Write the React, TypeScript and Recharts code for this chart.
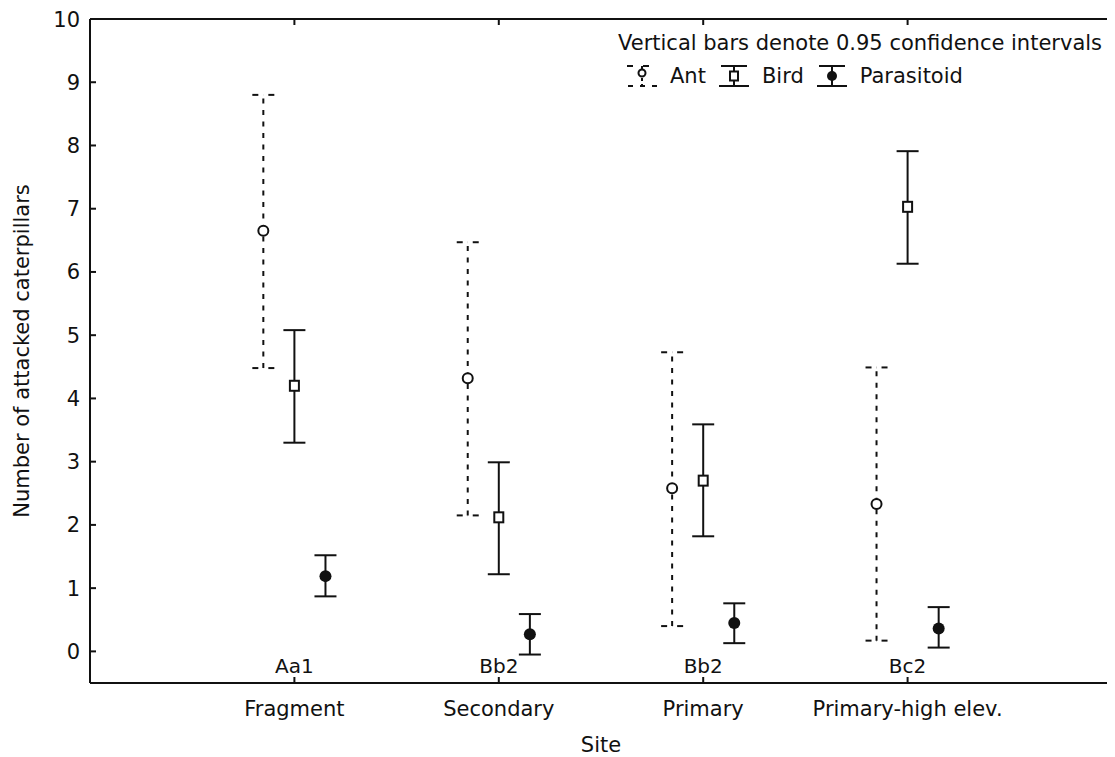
import React from 'react';
import { ComposedChart, Scatter, XAxis, YAxis, ErrorBar, Legend, ReferenceLine } from 'recharts';

const FONT = '"DejaVu Sans", "Liberation Sans", sans-serif';
const INK = '#111';

// ---- data ----
const sites = ['Fragment', 'Secondary', 'Primary', 'Primary-high elev.'];
const siteCodes = ['Aa1', 'Bb2', 'Bb2', 'Bc2'];
const sitePositions = [1, 2, 3, 4];

const antMean = [6.65, 4.32, 2.58, 2.33];
const antLow = [4.48, 2.15, 0.4, 0.17];
const antHigh = [8.8, 6.47, 4.73, 4.49];

const birdMean = [4.2, 2.12, 2.7, 7.03];
const birdLow = [3.3, 1.22, 1.82, 6.13];
const birdHigh = [5.08, 2.99, 3.59, 7.91];

const parMean = [1.19, 0.27, 0.45, 0.36];
const parLow = [0.87, -0.05, 0.13, 0.06];
const parHigh = [1.52, 0.59, 0.76, 0.7];

const yTicks = [0, 1, 2, 3, 4, 5, 6, 7, 8, 9, 10];
const xDomain = [0, 5];
const yDomain = [-0.5, 10];
const legendTitle = 'Vertical bars denote 0.95 confidence intervals';
const seriesOffsets = { Ant: -0.152, Bird: 0, Parasitoid: 0.152 };

const mk = (mean: number[], low: number[], high: number[], off: number) =>
  sitePositions.map((p, i) => ({
    x: p + off,
    y: mean[i],
    err: [mean[i] - low[i], high[i] - mean[i]],
  }));

const antData = mk(antMean, antLow, antHigh, seriesOffsets.Ant);
const birdData = mk(birdMean, birdLow, birdHigh, seriesOffsets.Bird);
const parData = mk(parMean, parLow, parHigh, seriesOffsets.Parasitoid);
const antCapData = sitePositions.flatMap((p, i) => [
  { x: p + seriesOffsets.Ant, y: antLow[i] },
  { x: p + seriesOffsets.Ant, y: antHigh[i] },
]);

// ---- shapes ----
const AntMarker = (p: any) => (
  <circle cx={p.cx} cy={p.cy} r={5} fill="#fff" stroke={INK} strokeWidth={2} />
);
const BirdMarker = (p: any) => (
  <rect x={p.cx - 4.5} y={p.cy - 5} width={9} height={10} fill="#fff" stroke={INK} strokeWidth={2} />
);
const ParMarker = (p: any) => <circle cx={p.cx} cy={p.cy} r={6} fill={INK} />;
const AntCap = (p: any) => (
  <g>
    <line x1={p.cx - 11} x2={p.cx - 5} y1={p.cy} y2={p.cy} stroke={INK} strokeWidth={2} />
    <line x1={p.cx + 5} x2={p.cx + 11} y1={p.cy} y2={p.cy} stroke={INK} strokeWidth={2} />
  </g>
);
const NoShape = () => <g />;
const NoTick = () => <g />;

// ---- ticks ----
const LeftTick = (p: any) => (
  <g>
    <line x1={p.x} x2={p.x + 6} y1={p.y} y2={p.y} stroke={INK} strokeWidth={2} />
    <text x={p.x - 10} y={p.y + 7.5} textAnchor="end" fontFamily={FONT} fontSize={21} fill={INK}>
      {p.payload.value}
    </text>
  </g>
);
const BottomTick = (p: any) => {
  const i = sitePositions.indexOf(p.payload.value);
  return (
    <g>
      <line x1={p.x} x2={p.x} y1={p.y} y2={p.y - 6} stroke={INK} strokeWidth={2} />
      <text x={p.x} y={p.y - 10} textAnchor="middle" fontFamily={FONT} fontSize={20} fill={INK}>
        {siteCodes[i]}
      </text>
      <text x={p.x} y={p.y + 33} textAnchor="middle" fontFamily={FONT} fontSize={21} fill={INK}>
        {sites[i]}
      </text>
    </g>
  );
};

const SiteLabel = (p: any) => {
  const vb = p.viewBox;
  return (
    <text x={vb.x + vb.width / 2} y={vb.y + 69} textAnchor="middle" fontFamily={FONT} fontSize={21} fill={INK}>
      Site
    </text>
  );
};
const YLabel = (p: any) => {
  const vb = p.viewBox;
  const cx = 21;
  const cy = vb.y + vb.height / 2;
  return (
    <text
      x={cx}
      y={cy}
      transform={`rotate(-90, ${cx}, ${cy})`}
      textAnchor="middle"
      fontFamily={FONT}
      fontSize={21}
      fill={INK}
    >
      Number of attacked caterpillars
    </text>
  );
};

// ---- legend ----
const LegendSymbol = ({ name }: { name: string }) => {
  if (name === 'Ant') {
    return (
      <svg width={32} height={24} style={{ display: 'block' }}>
        <line x1={16} x2={16} y1={2} y2={22} stroke={INK} strokeWidth={2} strokeDasharray="3 3" />
        <line x1={1} x2={31} y1={2} y2={2} stroke={INK} strokeWidth={2} strokeDasharray="6 10" />
        <line x1={2} x2={32} y1={22} y2={22} stroke={INK} strokeWidth={2} strokeDasharray="5 7" />
        <circle cx={16} cy={9} r={3.5} fill="#fff" stroke={INK} strokeWidth={2} />
      </svg>
    );
  }
  return (
    <svg width={32} height={24} style={{ display: 'block' }}>
      <line x1={16} x2={16} y1={2} y2={22} stroke={INK} strokeWidth={2} />
      <line x1={3} x2={29} y1={2} y2={2} stroke={INK} strokeWidth={2} />
      <line x1={1} x2={31} y1={22} y2={22} stroke={INK} strokeWidth={2} />
      {name === 'Bird' ? (
        <rect x={12} y={7.5} width={8} height={9} fill="#fff" stroke={INK} strokeWidth={2} />
      ) : (
        <circle cx={16} cy={12} r={5} fill={INK} />
      )}
    </svg>
  );
};

const renderLegend = (props: any) => {
  const payload = (props.payload || []).filter((e: any) => ['Ant', 'Bird', 'Parasitoid'].includes(e.value));
  return (
    <div style={{ fontFamily: FONT, fontSize: 21, color: INK, lineHeight: '24px', whiteSpace: 'nowrap' }}>
      <div style={{ height: 24 }}>{legendTitle}</div>
      <div style={{ display: 'flex', alignItems: 'center', marginTop: 9, marginLeft: 8, height: 24 }}>
        {payload.map((e: any) => (
          <div key={e.value} style={{ display: 'flex', alignItems: 'center', marginRight: 12 }}>
            <LegendSymbol name={e.value} />
            <span style={{ marginLeft: 12 }}>{e.value}</span>
          </div>
        ))}
      </div>
    </div>
  );
};

export default function App() {
  return (
    <div style={{ width: 1107, height: 749, background: '#fff' }}>
      <style>{`html,body{overflow:hidden;background:#fff}`}</style>
      <ComposedChart width={1107} height={749} margin={{ top: 11, right: 3, bottom: 0, left: 0 }}>
        <XAxis
          xAxisId={0}
          dataKey="x"
          type="number"
          domain={xDomain}
          allowDataOverflow
          ticks={sitePositions}
          height={74}
          axisLine={{ stroke: INK, strokeWidth: 2 }}
          tickLine={false}
          tickSize={0}
          tickMargin={0}
          tick={<BottomTick />}
          interval={0}
          label={<SiteLabel />}
        />
        <XAxis
          xAxisId="top"
          dataKey="x"
          orientation="top"
          mirror
          type="number"
          domain={xDomain}
          allowDataOverflow
          ticks={sitePositions}
          height={30}
          axisLine={{ stroke: INK, strokeWidth: 2 }}
          tickLine={{ stroke: INK, strokeWidth: 2 }}
          tickSize={6}
          tick={<NoTick />}
          interval={0}
        />
        <YAxis
          yAxisId={0}
          dataKey="y"
          type="number"
          domain={yDomain}
          allowDataOverflow
          ticks={yTicks}
          width={82}
          axisLine={{ stroke: INK, strokeWidth: 2 }}
          tickLine={false}
          tickSize={0}
          tickMargin={0}
          tick={<LeftTick />}
          interval={0}
          label={<YLabel />}
        />
        <YAxis
          yAxisId="right"
          dataKey="y"
          orientation="right"
          mirror
          type="number"
          domain={yDomain}
          allowDataOverflow
          ticks={yTicks}
          width={30}
          axisLine={{ stroke: INK, strokeWidth: 2 }}
          tickLine={{ stroke: INK, strokeWidth: 2 }}
          tickSize={5}
          tick={<NoTick />}
          interval={0}
        />
        <ReferenceLine x={xDomain[1]} stroke={INK} strokeWidth={2} />
        <Legend
          verticalAlign="middle"
          align="center"
          layout="horizontal"
          wrapperStyle={{ left: 610, top: 23, width: 'auto', height: 'auto' }}
          content={renderLegend}
        />
        <Scatter
          name="frame"
          xAxisId="top"
          yAxisId="right"
          data={antCapData}
          shape={NoShape}
          legendType="none"
          isAnimationActive={false}
        />
        <Scatter name="caps" data={antCapData} shape={AntCap} legendType="none" isAnimationActive={false} />
        <Scatter name="Ant" data={antData} shape={AntMarker} fill={INK} isAnimationActive={false}>
          <ErrorBar
            dataKey="err"
            direction="y"
            width={0}
            stroke={INK}
            strokeWidth={2}
            strokeDasharray="5 6.5"
            isAnimationActive={false}
          />
        </Scatter>
        <Scatter name="Bird" data={birdData} shape={BirdMarker} fill={INK} isAnimationActive={false}>
          <ErrorBar dataKey="err" direction="y" width={11} stroke={INK} strokeWidth={2} isAnimationActive={false} />
        </Scatter>
        <Scatter name="Parasitoid" data={parData} shape={ParMarker} fill={INK} isAnimationActive={false}>
          <ErrorBar dataKey="err" direction="y" width={11} stroke={INK} strokeWidth={2} isAnimationActive={false} />
        </Scatter>
      </ComposedChart>
    </div>
  );
}
